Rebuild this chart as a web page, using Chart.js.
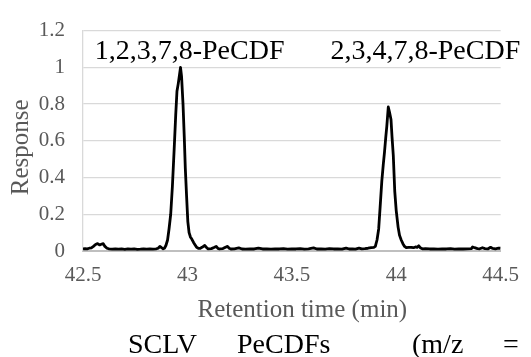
<!DOCTYPE html>
<html>
<head>
<meta charset="utf-8">
<script src="https://cdn.jsdelivr.net/npm/chart.js@4/dist/chart.umd.min.js"></script>
<style>
  html, body { margin: 0; padding: 0; background: #ffffff; }
  #wrap { position: relative; width: 531px; height: 357px; overflow: hidden; background: #ffffff; }
  #c { position: absolute; left: 0; top: 0; }
  .cap { position: absolute; top: 330px; font-family: "Liberation Serif", "Times New Roman", serif; font-size: 28px; line-height: 1; color: #000; white-space: nowrap; }
</style>
</head>
<body>
<div id="wrap">
  <canvas id="c" width="531" height="357"></canvas>
  <span class="cap" style="left:128px">SCLV</span>
  <span class="cap" style="left:237px">PeCDFs</span>
  <span class="cap" style="left:412px">(m/z</span>
  <span class="cap" style="left:503px">=</span>
</div>
<script>
// ---- data ----
const retentionTime = [
  42.500, 42.510, 42.520, 42.530, 42.540, 42.550, 42.560, 42.570, 42.580, 42.590,
  42.597, 42.605, 42.615, 42.625, 42.640, 42.655, 42.670, 42.685, 42.700, 42.715,
  42.730, 42.745, 42.760, 42.775, 42.790, 42.805, 42.820, 42.835, 42.850, 42.860,
  42.868, 42.876, 42.884, 42.890, 42.897, 42.905, 42.912, 42.920, 42.928, 42.936,
  42.944, 42.950, 42.956, 42.961, 42.967, 42.972, 42.979, 42.985, 42.990, 42.996,
  43.002, 43.008, 43.015, 43.021, 43.030, 43.044, 43.052, 43.060, 43.070, 43.083,
  43.092, 43.099, 43.115, 43.130, 43.138, 43.146, 43.153, 43.170, 43.185, 43.192,
  43.200, 43.208, 43.225, 43.246, 43.262, 43.278, 43.300, 43.320, 43.340, 43.360,
  43.380, 43.400, 43.420, 43.440, 43.460, 43.480, 43.500, 43.520, 43.540, 43.560,
  43.580, 43.604, 43.620, 43.640, 43.660, 43.680, 43.700, 43.720, 43.740, 43.760,
  43.775, 43.790, 43.805, 43.822, 43.835, 43.850, 43.865, 43.880, 43.893, 43.900,
  43.908, 43.916, 43.923, 43.931, 43.938, 43.944, 43.950, 43.955, 43.962, 43.968,
  43.975, 43.980, 43.986, 43.993, 44.000, 44.009, 44.016, 44.024, 44.032, 44.040,
  44.048, 44.060, 44.071, 44.083, 44.092, 44.100, 44.108, 44.115, 44.125, 44.140,
  44.160, 44.180, 44.200, 44.220, 44.240, 44.260, 44.280, 44.300, 44.320, 44.340,
  44.360, 44.366, 44.375, 44.389, 44.400, 44.413, 44.425, 44.440, 44.452, 44.462,
  44.475, 44.490, 44.500
];
const response = [
  0.012, 0.013, 0.012, 0.015, 0.017, 0.025, 0.035, 0.040, 0.033, 0.038,
  0.040, 0.025, 0.015, 0.012, 0.010, 0.012, 0.010, 0.011, 0.009, 0.012,
  0.010, 0.011, 0.009, 0.010, 0.012, 0.010, 0.011, 0.010, 0.012, 0.015,
  0.025, 0.018, 0.012, 0.015, 0.030, 0.060, 0.120, 0.200, 0.350, 0.540,
  0.740, 0.870, 0.910, 0.950, 1.000, 0.950, 0.800, 0.620, 0.450, 0.300,
  0.160, 0.100, 0.075, 0.065, 0.045, 0.020, 0.015, 0.014, 0.020, 0.030,
  0.018, 0.012, 0.013, 0.020, 0.025, 0.014, 0.011, 0.013, 0.022, 0.025,
  0.015, 0.011, 0.012, 0.017, 0.011, 0.010, 0.012, 0.011, 0.016, 0.011,
  0.012, 0.010, 0.012, 0.011, 0.013, 0.010, 0.012, 0.011, 0.013, 0.010,
  0.012, 0.017, 0.011, 0.012, 0.010, 0.013, 0.011, 0.012, 0.010, 0.016,
  0.011, 0.012, 0.010, 0.016, 0.012, 0.013, 0.015, 0.018, 0.020, 0.025,
  0.060, 0.120, 0.240, 0.380, 0.470, 0.540, 0.620, 0.680, 0.784, 0.755,
  0.716, 0.620, 0.520, 0.325, 0.220, 0.130, 0.085, 0.060, 0.040, 0.025,
  0.018, 0.020, 0.020, 0.018, 0.022, 0.020, 0.028, 0.018, 0.012, 0.013,
  0.011, 0.012, 0.010, 0.012, 0.011, 0.013, 0.010, 0.012, 0.011, 0.012,
  0.013, 0.022, 0.018, 0.013, 0.012, 0.018, 0.013, 0.012, 0.020, 0.014,
  0.012, 0.016, 0.015
];
const xTickLabels = ['42.5', '43', '43.5', '44', '44.5'];
const yTickLabels = ['0', '0.2', '0.4', '0.6', '0.8', '1', '1.2'];
const peakNames = ['1,2,3,7,8-PeCDF', '2,3,4,7,8-PeCDF'];
const xTitle = 'Retention time (min)';
const yTitle = 'Response';

// ---- annotation anchors (in data units) ----
const peakLabelAnchors = [{ x: 42.556, y: 1.045 }, { x: 43.685, y: 1.045 }];

const SERIF = '"Liberation Serif", "Times New Roman", serif';
const GREY = '#595959';

const textPlugin = {
  id: 'textPlugin',
  afterDraw(chart) {
    const { ctx, chartArea, scales } = chart;
    ctx.save();
    // peak labels
    ctx.fillStyle = '#000000';
    ctx.font = '28px ' + SERIF;
    ctx.textAlign = 'left';
    ctx.textBaseline = 'alphabetic';
    peakNames.forEach((name, i) => {
      const a = peakLabelAnchors[i];
      ctx.fillText(name, scales.x.getPixelForValue(a.x), scales.y.getPixelForValue(a.y));
    });
    // axis titles
    ctx.fillStyle = GREY;
    ctx.font = '25px ' + SERIF;
    ctx.textAlign = 'center';
    ctx.textBaseline = 'middle';
    ctx.fillText(xTitle, (chartArea.left + chartArea.right) / 2 + 10.5, chartArea.bottom + 59);
    ctx.translate(chartArea.left - 61.5, (chartArea.top + chartArea.bottom) / 2 + 6.5);
    ctx.rotate(-Math.PI / 2);
    ctx.fillText(yTitle, 0, 0);
    ctx.restore();
  }
};

const points = retentionTime.map((t, i) => ({ x: t, y: response[i] }));

new Chart(document.getElementById('c'), {
  type: 'line',
  data: {
    datasets: [{
      data: points,
      borderColor: '#000000',
      borderWidth: 2.8,
      borderJoinStyle: 'round',
      pointRadius: 0,
      tension: 0,
      fill: false
    }]
  },
  options: {
    responsive: false,
    animation: false,
    devicePixelRatio: 1,
    layout: { padding: { left: 0, top: 26, right: 19, bottom: 32 } },
    plugins: { legend: { display: false }, tooltip: { enabled: false } },
    scales: {
      x: {
        type: 'linear',
        min: 42.5, max: 44.5,
        afterFit(scale) { scale.height = 74; },
        afterBuildTicks(scale) { scale.ticks = xTickLabels.map(v => ({ value: parseFloat(v) })); },
        ticks: {
          callback: (v, i) => xTickLabels[i],
          color: GREY,
          font: { family: SERIF, size: 21 },
          padding: 12,
          maxRotation: 0,
          autoSkip: false
        },
        grid: { display: false, drawTicks: false },
        border: { display: true, color: '#bfbfbf', width: 2 }
      },
      y: {
        min: 0, max: 1.2,
        afterFit(scale) { scale.width = 83; },
        afterBuildTicks(scale) { scale.ticks = yTickLabels.map(v => ({ value: parseFloat(v) })); },
        ticks: {
          callback: (v, i) => yTickLabels[i],
          color: GREY,
          font: { family: SERIF, size: 21 },
          padding: 18,
          autoSkip: false
        },
        grid: { color: '#d9d9d9', lineWidth: 1.3, drawTicks: false },
        border: { display: true, color: '#d9d9d9', width: 1.3 }
      }
    }
  },
  plugins: [textPlugin]
});
</script>
</body>
</html>
